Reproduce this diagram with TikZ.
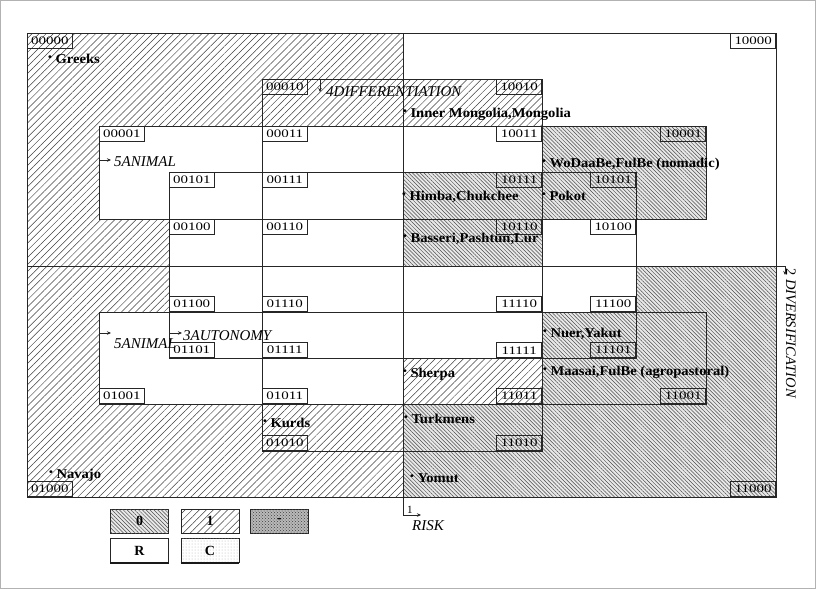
\documentclass[tikz,border=0pt]{standalone}
\usepackage{fontspec}
\setmainfont{Liberation Serif}
\newfontfamily\lblfont[FakeStretch=1.3]{Liberation Serif}
\newfontfamily\namefont[FakeStretch=1.08]{Liberation Serif}
\usetikzlibrary{patterns,patterns.meta,arrows.meta}
\newcommand{\bul}{\raisebox{0.35ex}{\scalebox{0.75}{\textbullet}}}
\tikzset{
  ln/.style={draw=black!85,line width=0.8pt},
  onefill/.style={pattern={Lines[angle=45,distance=5pt,line width=0.5pt]},pattern color=black!75},
  zerofill/.style={fill=gray!18,postaction={pattern={Lines[angle=-45,distance=2.7pt,line width=0.5pt]},pattern color=black!70}},
  darkfill/.style={fill=gray!55,postaction={pattern=crosshatch dots,pattern color=black!75}},
  dotfill/.style={fill=white,postaction={pattern=dots,pattern color=gray!60}},
  lbl/.style={draw=black!85,line width=0.6pt,minimum width=45pt,minimum height=15pt,inner sep=0pt,font=\lblfont\fontsize{11.5}{11.5}\selectfont},
  grp/.style={anchor=base west,inner sep=0pt,font=\namefont\bfseries\fontsize{13.5}{13.5}\selectfont},
  ax/.style={anchor=base west,inner sep=0pt,font=\fontsize{15}{15}\selectfont\itshape},
  arr/.style={draw=black!85,line width=0.7pt,-{Stealth[length=4pt,width=3.5pt]}},
  leg/.style={draw=black!85,line width=0.8pt,minimum width=58pt,minimum height=24pt,inner sep=0pt,font=\bfseries\fontsize{14}{14}\selectfont},
}
\begin{document}
\begin{tikzpicture}[x=1pt,y=-1pt]
\useasboundingbox (0,0) rectangle (816,589);
\fill[white] (0,0) rectangle (816,589);
\draw[gray!60,line width=0.6pt] (0.5,0.5) rectangle (815.5,588.5);
% ---------- region fills
% upper left
\path[onefill] (27,33) rectangle (403,266);
\fill[white] (99,126) rectangle (403,219);
\fill[white] (169,172) rectangle (403,266);
\fill[white] (262,79) rectangle (403,266);
\path[onefill] (262,79) rectangle (403,126);
% upper right
\path[onefill] (403,79) rectangle (542,126);
\path[zerofill] (542,126) rectangle (706,219);
\path[zerofill] (403,172) rectangle (542,266);
% lower left
\path[onefill] (27,266) rectangle (403,497);
\fill[white] (99,312) rectangle (403,404);
\fill[white] (169,266) rectangle (403,358);
\fill[white] (262,266) rectangle (403,451);
\path[onefill] (262,404) rectangle (403,451);
% lower right
\path[zerofill] (403,266) rectangle (776,497);
\fill[white] (403,266) rectangle (636,312);
\fill[white] (403,312) rectangle (542,358);
\fill[white] (403,358) rectangle (542,404);
\path[onefill] (403,358) rectangle (542,404);
% ---------- region borders
\draw[ln] (27,33) rectangle (776,497);
\draw[ln] (262,79) rectangle (542,451);
\draw[ln] (169,172) rectangle (636,358);
\draw[ln] (99,126) rectangle (706,219);
\draw[ln] (99,312) rectangle (706,404);
\coordinate (risktop) at (403,33);
\coordinate (riskbend) at (403,515);
\coordinate (riskend) at (421,515);
\draw[arr] (risktop) -- (riskbend) -- (riskend);
\coordinate (divleft) at (27,266);
\coordinate (divbend) at (785,266);
\coordinate (divend) at (785,275);
\draw[arr] (divleft) -- (divbend) -- (divend);
% ---------- cell labels
\node[lbl,anchor=north west] (c00000) at (27,33) {00000};
\node[lbl,anchor=north west] (c00010) at (262,79) {00010};
\node[lbl,anchor=north west] (c00001) at (99,126) {00001};
\node[lbl,anchor=north west] (c00011) at (262,126) {00011};
\node[lbl,anchor=north west] (c00101) at (169,172) {00101};
\node[lbl,anchor=north west] (c00111) at (262,172) {00111};
\node[lbl,anchor=north west] (c00100) at (169,219) {00100};
\node[lbl,anchor=north west] (c00110) at (262,219) {00110};
\node[lbl,anchor=north east] (c10000) at (776,33) {10000};
\node[lbl,anchor=north east] (c10010) at (542,79) {10010};
\node[lbl,anchor=north east] (c10011) at (542,126) {10011};
\node[lbl,anchor=north east] (c10001) at (706,126) {10001};
\node[lbl,anchor=north east] (c10111) at (542,172) {10111};
\node[lbl,anchor=north east] (c10101) at (636,172) {10101};
\node[lbl,anchor=north east] (c10110) at (542,219) {10110};
\node[lbl,anchor=north east] (c10100) at (636,219) {10100};
\node[lbl,anchor=south west] (c01100) at (169,312) {01100};
\node[lbl,anchor=south west] (c01110) at (262,312) {01110};
\node[lbl,anchor=south west] (c01101) at (169,358) {01101};
\node[lbl,anchor=south west] (c01111) at (262,358) {01111};
\node[lbl,anchor=south west] (c01001) at (99,404) {01001};
\node[lbl,anchor=south west] (c01011) at (262,404) {01011};
\node[lbl,anchor=south west] (c01010) at (262,451) {01010};
\node[lbl,anchor=south west] (c01000) at (27,497) {01000};
\node[lbl,anchor=south east] (c11110) at (542,312) {11110};
\node[lbl,anchor=south east] (c11100) at (636,312) {11100};
\node[lbl,anchor=south east] (c11111) at (542,358) {11111};
\node[lbl,anchor=south east] (c11101) at (636,358) {11101};
\node[lbl,anchor=south east] (c11011) at (542,404) {11011};
\node[lbl,anchor=south east] (c11001) at (706,404) {11001};
\node[lbl,anchor=south east] (c11010) at (542,451) {11010};
\node[lbl,anchor=south east] (c11000) at (776,497) {11000};
% ---------- group names
\node[grp] (greeks) at (48,63) {\bul\hspace{3.5pt}Greeks};
\node[grp] (mongolia) at (403,117) {\bul\hspace{3.5pt}Inner Mongolia,Mongolia};
\node[grp] (wodaabe) at (542,167) {\bul\hspace{3.5pt}WoDaaBe,FulBe (nomadic)};
\node[grp] (himba) at (402,200) {\bul\hspace{3.5pt}Himba,Chukchee};
\node[grp] (pokot) at (542,200) {\bul\hspace{3.5pt}Pokot};
\node[grp] (basseri) at (403,242) {\bul\hspace{3.5pt}Basseri,Pashtun,Lur};
\node[grp] (nuer) at (543,337) {\bul\hspace{3.5pt}Nuer,Yakut};
\node[grp] (maasai) at (543,375) {\bul\hspace{3.5pt}Maasai,FulBe (agropastoral)};
\node[grp] (sherpa) at (403,377) {\bul\hspace{3.5pt}Sherpa};
\node[grp] (kurds) at (263,427) {\bul\hspace{3.5pt}Kurds};
\node[grp] (turkmens) at (404,423) {\bul\hspace{3.5pt}Turkmens};
\node[grp] (yomut) at (410,482) {\bul\hspace{3.5pt}Yomut};
\node[grp] (navajo) at (49,478) {\bul\hspace{3.5pt}Navajo};
% ---------- variable markers
\coordinate (difa) at (320,80);
\coordinate (difb) at (320,92);
\draw[arr] (difa) -- (difb);
\node[ax] (diff) at (326,96) {4DIFFERENTIATION};
\coordinate (ana) at (99,160);
\coordinate (anb) at (111,160);
\draw[arr] (ana) -- (anb);
\node[ax] (animal1) at (114,166) {5ANIMAL};
\coordinate (anc) at (99,333);
\coordinate (and) at (111,333);
\draw[arr] (anc) -- (and);
\node[ax] (animal2) at (114,348) {5ANIMAL};
\coordinate (aua) at (169,333);
\coordinate (aub) at (182,333);
\draw[arr] (aua) -- (aub);
\node[ax] (autonomy) at (183,340) {3AUTONOMY};
\node[anchor=base west,inner sep=0pt,font=\fontsize{11}{11}\selectfont] (risknum) at (407,513) {1};
\node[ax] (risk) at (412,530) {RISK};
\node[anchor=base west,inner sep=0pt,rotate=-90,font=\fontsize{14.5}{14.5}\selectfont] (diversification) at (786,268) {2 \textit{DIVERSIFICATION}};
% ---------- legend
\node[leg,zerofill] (leg0) at (139.5,521) {0};
\node[leg,onefill] (leg1) at (210,521) {1};
\node[leg,darkfill] (legd) at (279.5,521) {-};
\node[leg,fill=white] (legR) at (139.5,550.5) {R};
\node[leg,dotfill] (legC) at (210,550.5) {C};
\draw[black!90,line width=2.5pt] (legR.south west) -- (legR.south east);
\draw[black!90,line width=2.5pt] (legC.south west) -- (legC.south east);
\end{tikzpicture}
\end{document}
